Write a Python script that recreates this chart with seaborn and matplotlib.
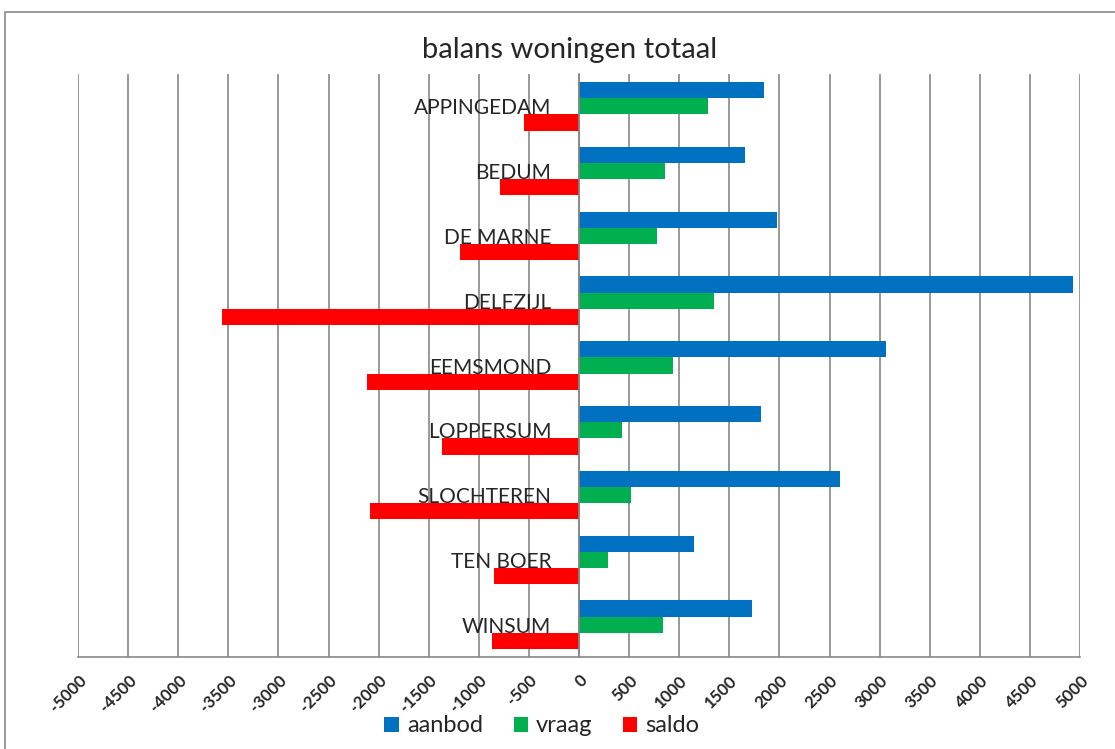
import matplotlib
matplotlib.use("Agg")
import matplotlib.pyplot as plt
from matplotlib.patches import Rectangle
from matplotlib.ticker import MultipleLocator, FixedLocator
import seaborn as sns
import pandas as pd

# gemeenten en waarden
gemeenten = ["APPINGEDAM", "BEDUM", "DE MARNE", "DELFZIJL", "EEMSMOND",
             "LOPPERSUM", "SLOCHTEREN", "TEN BOER", "WINSUM"]
aanbod = [1845, 1655, 1975, 4930, 3060, 1815, 2605, 1145, 1725]
vraag = [1285, 858, 778, 1347, 938, 432, 522, 291, 840]
saldo = [-549, -788, -1188, -3563, -2116, -1367, -2082, -845, -868]

series = ["aanbod", "vraag", "saldo"]
kleuren = ["#0070C0", "#00B050", "#FF0000"]

df = pd.DataFrame({"gemeente": gemeenten, "aanbod": aanbod,
                   "vraag": vraag, "saldo": saldo})
dados = df.melt(id_vars="gemeente", var_name="serie", value_name="waarde")

sns.set_style("white")
plt.rcParams["font.family"] = ["Lato", "DejaVu Sans"]

fig = plt.figure(figsize=(11.15, 7.49), dpi=100)
ax = fig.add_axes([78 / 1115, 1 - 657 / 749, (1080 - 78) / 1115, (657 - 74) / 749])

sns.barplot(data=dados, y="gemeente", x="waarde", hue="serie",
            hue_order=series, palette=kleuren, order=gemeenten,
            orient="h", width=0.75, saturation=1, linewidth=0,
            legend=True, ax=ax, zorder=3)

# assen
ax.set_xlim(-5000, 5000)
ax.set_ylim(len(gemeenten) - 0.5, -0.5)
ax.xaxis.set_major_locator(MultipleLocator(500))
ax.grid(axis="x", color="#888888", linewidth=1.2, zorder=0)
ax.set_axisbelow(True)

for s in ["top", "right"]:
    ax.spines[s].set_visible(False)
ax.spines["left"].set_position(("data", 0))
ax.spines["left"].set_color("#888888")
ax.spines["left"].set_linewidth(1.2)
ax.spines["left"].set_zorder(4)
ax.spines["bottom"].set_color("#888888")
ax.spines["bottom"].set_linewidth(1.2)

ax.set_xlabel("")
ax.set_ylabel("")

# gemeente labels naast de nul-as
ax.tick_params(axis="y", which="major", length=0, pad=20, labelsize=15)
ax.yaxis.set_minor_locator(FixedLocator([i - 0.5 for i in range(len(gemeenten) + 1)]))
ax.tick_params(axis="y", which="minor", length=5, width=1.2, color="#888888", direction="out")

ax.tick_params(axis="x", length=6, width=1.2, color="#888888", pad=5, labelsize=12)
ax.set_xticks(ax.get_xticks())
ax.set_xticklabels([str(int(t)) for t in ax.get_xticks()], rotation=45,
                   ha="right", va="top", rotation_mode="anchor", weight="bold")
ax.set_xlim(-5000, 5000)

# titel
fig.text(570 / 1115, 1 - 50 / 749, "balans woningen totaal", ha="center",
         va="center", fontsize=21)

# legenda onderaan
handles, labels = ax.get_legend_handles_labels()
ax.legend_.remove()
fig.legend(handles, labels, loc="center", bbox_to_anchor=(542 / 1115, 1 - 726 / 749),
           ncol=3, frameon=False, fontsize=17, handlelength=0.6, handleheight=0.6,
           handletextpad=0.35, columnspacing=1.3)

# kader rond de grafiek
fig.patches.append(Rectangle((5 / 1115, -0.05), 1.1, 1 - 12 / 749 + 0.05,
                             transform=fig.transFigure, fill=False,
                             edgecolor="#888888", linewidth=1.2))

fig.savefig("out.png", dpi=100)
